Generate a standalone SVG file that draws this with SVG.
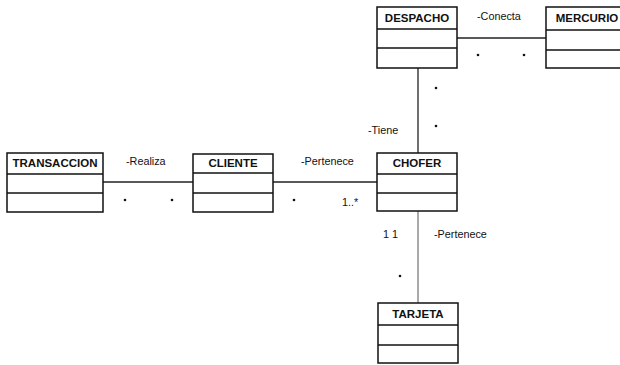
<svg xmlns="http://www.w3.org/2000/svg" width="620" height="365" viewBox="0 0 620 365">
  <style>
    .box { fill: #fff; stroke: #111; stroke-width: 1.5; }
    .sep { stroke: #111; stroke-width: 1.3; }
    .name { font-family: "Liberation Sans", Arial, sans-serif; font-weight: bold; font-size: 11.5px; fill: #111; text-anchor: middle; }
    .lbl { font-family: "Liberation Sans", Arial, sans-serif; font-size: 10.8px; fill: #111; }
    .edge { stroke: #222; stroke-width: 1.3; fill: none; }
    .dot { fill: #111; }
  </style>
  <rect width="620" height="365" fill="#fff"/>

  <!-- associations -->
  <g id="connectors">
    <line class="edge" x1="103" y1="182" x2="193" y2="182"/>
    <line class="edge" x1="273" y1="182" x2="377" y2="182"/>
    <line class="edge" x1="418" y1="68" x2="418" y2="153"/>
    <line class="edge" x1="457" y1="38" x2="546" y2="38"/>
    <line class="edge" x1="418" y1="211" x2="418" y2="303" style="stroke:#555;stroke-width:1"/>

    <text class="lbl" x="126" y="165">-Realiza</text>
    <circle class="dot" cx="125" cy="200" r="1.3"/>
    <circle class="dot" cx="172" cy="200" r="1.3"/>

    <text class="lbl" x="301" y="165">-Pertenece</text>
    <circle class="dot" cx="294" cy="200" r="1.3"/>
    <text class="lbl" x="342" y="206">1..*</text>

    <text class="lbl" x="368" y="134">-Tiene</text>
    <circle class="dot" cx="436" cy="88" r="1.3"/>
    <circle class="dot" cx="436" cy="126" r="1.3"/>

    <text class="lbl" x="477" y="20">-Conecta</text>
    <circle class="dot" cx="478" cy="55" r="1.3"/>
    <circle class="dot" cx="524" cy="55" r="1.3"/>

    <text class="lbl" x="383" y="238">1  1</text>
    <text class="lbl" x="434" y="238">-Pertenece</text>
    <circle class="dot" cx="400" cy="276" r="1.3"/>
  </g>

  <g id="transaccion">
    <rect class="box" x="7" y="153" width="96" height="59"/>
    <line class="sep" x1="7" y1="174" x2="103" y2="174"/>
    <line class="sep" x1="7" y1="193" x2="103" y2="193"/>
    <text class="name" x="55" y="167">TRANSACCION</text>
  </g>

  <g id="cliente">
    <rect class="box" x="193" y="154" width="80" height="58"/>
    <line class="sep" x1="193" y1="173" x2="273" y2="173"/>
    <line class="sep" x1="193" y1="193" x2="273" y2="193"/>
    <text class="name" x="233" y="167">CLIENTE</text>
  </g>

  <g id="chofer">
    <rect class="box" x="377" y="153" width="80" height="58"/>
    <line class="sep" x1="377" y1="174" x2="457" y2="174"/>
    <line class="sep" x1="377" y1="193" x2="457" y2="193"/>
    <text class="name" x="417" y="167">CHOFER</text>
  </g>

  <g id="despacho">
    <rect class="box" x="377" y="7" width="80" height="61"/>
    <line class="sep" x1="377" y1="29" x2="457" y2="29"/>
    <line class="sep" x1="377" y1="48" x2="457" y2="48"/>
    <text class="name" x="417" y="22">DESPACHO</text>
  </g>

  <g id="mercurio">
    <rect class="box" x="546" y="7" width="80" height="61"/>
    <line class="sep" x1="546" y1="30" x2="626" y2="30"/>
    <line class="sep" x1="546" y1="50" x2="626" y2="50"/>
    <text class="name" x="587" y="22">MERCURIO</text>
  </g>

  <g id="tarjeta">
    <rect class="box" x="378" y="303" width="80" height="60"/>
    <line class="sep" x1="378" y1="325" x2="458" y2="325"/>
    <line class="sep" x1="378" y1="345" x2="458" y2="345"/>
    <text class="name" x="418" y="318">TARJETA</text>
  </g>
</svg>
